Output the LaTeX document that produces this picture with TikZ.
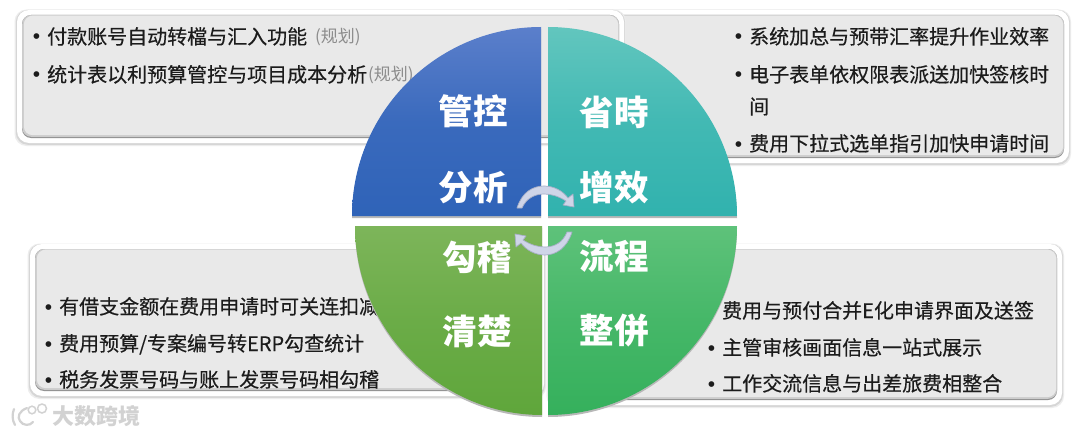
\documentclass[tikz,border=0pt]{standalone}
\usepackage{fontspec}
\setmainfont{Noto Sans CJK SC}
\newfontfamily\itemfont[RawFeature={embolden=0.35}]{Noto Sans CJK SC}
\newfontfamily\bltfont{Liberation Sans}
\definecolor{panelgray}{HTML}{E9E9E9}
\definecolor{txt}{HTML}{1C1C1C}
\definecolor{plan}{HTML}{8C8C8C}
\definecolor{arcfill}{HTML}{CFD5E8}
\definecolor{arcedge}{HTML}{A7AEC6}
\definecolor{wm}{HTML}{D2D2D2}
\definecolor{blueT}{HTML}{5B7FCB}\definecolor{blueB}{HTML}{2F63B8}
\definecolor{tealT}{HTML}{62C6BE}\definecolor{tealB}{HTML}{31B2AE}
\definecolor{leafT}{HTML}{7DB55A}\definecolor{leafB}{HTML}{5FA63B}
\definecolor{mintT}{HTML}{5EC27A}\definecolor{mintB}{HTML}{35B05C}
\newcommand{\blt}{\makebox[0pt][r]{{\bltfont\fontsize{21}{21}\selectfont •}\hspace{7pt}}}
\newcommand{\softpanel}[4]{%
  \fill[shadelayer,fill=black!7] (#1-2.5,#2-0.5) rectangle (#3+2,#4+3);
  \fill[shadelayer,fill=black!16] (#1-1.2,#2) rectangle (#3+1,#4+1.8);
  \fill[shadelayer,fill=white] (#1,#2) rectangle (#3,#4);
  \fill[corelayer,fill=black!42] (#1+5,#2+5) rectangle (#3-5,#4-5);
  \fill[corelayer,fill=black!20] (#1+5.2,#2+5) rectangle (#3-5,#4-6.2);
  \fill[corelayer,fill=panelgray] (#1+6.8,#2+5.6) rectangle (#3-5.8,#4-7.8);
}
\tikzset{
  lineitem/.style={anchor=base west,inner sep=0pt,text=txt,font=\itemfont\fontsize{20}{20}\selectfont},
  plannote/.style={anchor=base west,inner sep=0pt,text=plan,font=\fontsize{17}{18}\selectfont},
  bigword/.style={inner sep=0pt,text=white,font=\fontsize{34.5}{35}\selectfont\bfseries},
  shadelayer/.style={rounded corners=12pt},
  corelayer/.style={rounded corners=9pt},
  quadshadow/.style={fill=black!28,draw=none},
  turnarrow/.style={fill=arcfill,draw=arcedge,line width=0.7pt,line join=round},
  wmark/.style={inner sep=0pt,text=wm,font=\fontsize{22}{23}\selectfont\bfseries},
  wmline/.style={draw=wm,line width=2.2pt,line cap=round}
}
\begin{document}
\begin{tikzpicture}[x=1pt,y=-1pt]
\useasboundingbox (0,0) rectangle (1080,436);
\fill[white] (0,0) rectangle (1080,436);

% panels
\softpanel{560}{10}{1069}{163}
\softpanel{17}{10}{624}{143}
\softpanel{549}{244}{1062}{405}
\softpanel{30}{244}{544}{396}

% panel texts
\node[lineitem] (tl1) at (47,44) {\blt 付款账号自动转檔与汇入功能};
\node[plannote] (tl1p) at (315,43) {(规划)};
\node[lineitem] (tl2) at (47,82) {\blt 统计表以利预算管控与项目成本分析};
\node[plannote] (tl2p) at (368,81) {(规划)};

\node[lineitem] (tr1) at (749,44) {\blt 系统加总与预带汇率提升作业效率};
\node[lineitem] (tr2) at (749,82) {\blt 电子表单依权限表派送加快签核时};
\node[lineitem] (tr2b) at (749,114) {间};
\node[lineitem] (tr3) at (749,151) {\blt 费用下拉式选单指引加快申请时间};

\node[lineitem] (bl1) at (59,314) {\blt 有借支金额在费用申请时可关连扣减};
\node[lineitem] (bl2) at (59,351) {\blt 费用预算/专案编号转ERP勾查统计};
\node[lineitem] (bl3) at (59,387) {\blt 税务发票号码与账上发票号码相勾稽};

\node[lineitem] (br1) at (722,318) {\blt 费用与预付合并E化申请界面及送签};
\node[lineitem] (br2) at (722,355) {\blt 主管审核画面信息一站式展示};
\node[lineitem] (br3) at (722,391) {\blt 工作交流信息与出差旅费相整合};

% quadrant shadows
\fill[quadshadow] (541,218) -- (352,218) .. controls (352,114) and (437,29) .. (541,29) -- cycle;
\fill[quadshadow] (548,218) -- (737,218) .. controls (737,114) and (652,29) .. (548,29) -- cycle;
\fill[quadshadow] (542,228) -- (355,228) .. controls (355,331) and (439,417) .. (542,417) -- cycle;
\fill[quadshadow] (548,228) -- (737,228) .. controls (737,332) and (652,417) .. (548,417) -- cycle;

% quadrants
\shade[top color=blueT,bottom color=blueB,middle color=blueB!75!blueT] (541,216) -- (352,216) .. controls (352,112) and (437,27) .. (541,27) -- cycle;
\shade[top color=tealT,bottom color=tealB,middle color=tealB!65!tealT] (548,216) -- (737,216) .. controls (737,112) and (652,27) .. (548,27) -- cycle;
\shade[top color=leafT,bottom color=leafB,middle color=leafB!60!leafT] (542,226) -- (355,226) .. controls (355,329) and (439,415) .. (542,415) -- cycle;
\shade[top color=mintT,bottom color=mintB,middle color=mintB!60!mintT] (548,226) -- (737,226) .. controls (737,330) and (652,415) .. (548,415) -- cycle;

% quadrant words
\node[bigword] (q1a) at (473,111) {管控};
\node[bigword] (q1b) at (473,187) {分析};
\node[bigword] (q2a) at (614,112) {省時};
\node[bigword] (q2b) at (614,187) {增效};
\node[bigword] (q3a) at (477,257) {勾稽};
\node[bigword] (q3b) at (477,331) {清楚};
\node[bigword] (q4a) at (614,256) {流程};
\node[bigword] (q4b) at (614,331) {整併};

% turning arrows
\filldraw[turnarrow] (517,208) .. controls (522,192) and (533,186) .. (544,186) .. controls (554,186) and (563,191) .. (568,198) -- (573,194) -- (574,207) -- (563,205) -- (566,201) .. controls (558,196) and (551,194) .. (544,194) .. controls (534,194) and (526,199) .. (522,208) -- cycle;
\filldraw[turnarrow] (572,232) .. controls (567,248) and (556,255) .. (545,255) .. controls (535,255) and (526,250) .. (521,243) -- (516,247) -- (515,234) -- (526,236) -- (523,240) .. controls (531,245) and (538,247) .. (545,247) .. controls (555,247) and (563,242) .. (567,232) -- cycle;

% watermark
\draw[wmline] (14,409) .. controls (12,414) and (12,420) .. (15,425);
\draw[wmline] (27,408) .. controls (19,411) and (17,417) .. (20,421) .. controls (23,426) and (30,426) .. (33,422);
\draw[wmline,line width=1.5pt] (32,410) circle (3.8);
\draw[wmline,line width=1.5pt] (42,408.5) circle (4.5);
\node[wmark,anchor=west] (wm) at (52,416) {大数跨境};
\end{tikzpicture}
\end{document}
